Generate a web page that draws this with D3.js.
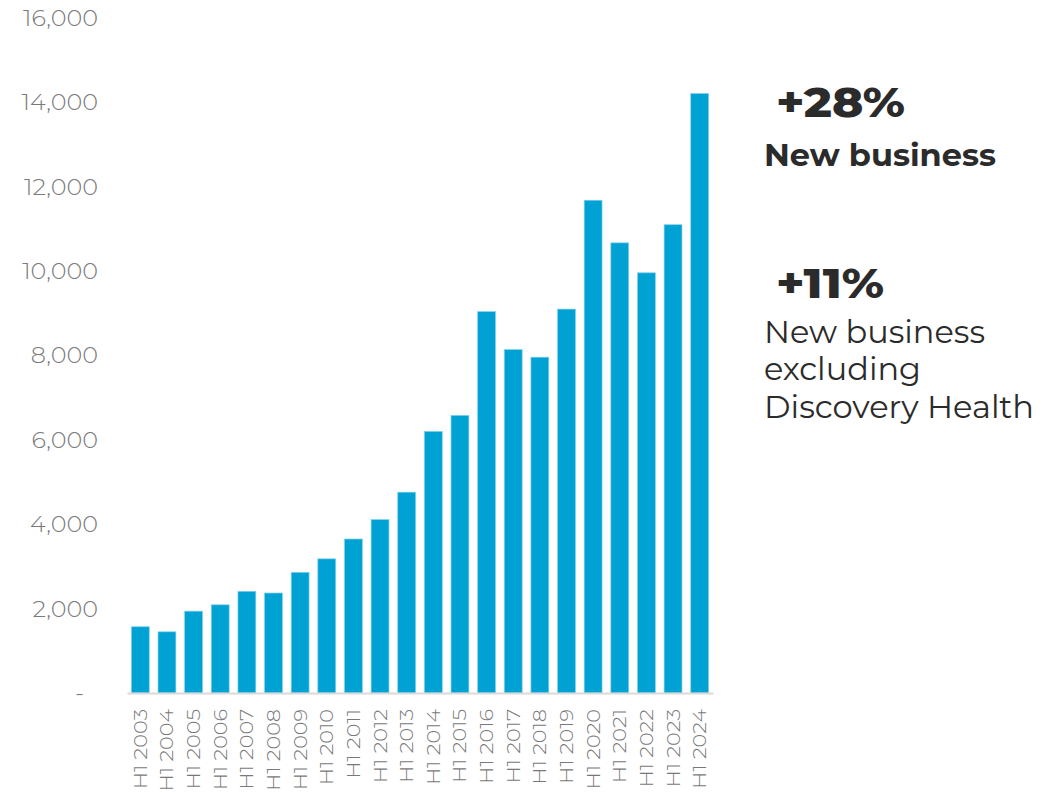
<!DOCTYPE html>
<html>
<head>
<meta charset="utf-8">
<script src="https://cdn.jsdelivr.net/npm/d3@7/dist/d3.min.js"></script>
<style>
  html, body { margin: 0; padding: 0; background: #ffffff; }
  svg { display: block; }
  svg text { font-family: Montserrat, Inter, "Open Sans", sans-serif; }
</style>
</head>
<body>
<svg id="chart" width="1061" height="794"></svg>
<script>
// Half-year new business, H1 2003 – H1 2024
const periods = ["H1 2003","H1 2004","H1 2005","H1 2006","H1 2007","H1 2008","H1 2009","H1 2010",
  "H1 2011","H1 2012","H1 2013","H1 2014","H1 2015","H1 2016","H1 2017","H1 2018","H1 2019",
  "H1 2020","H1 2021","H1 2022","H1 2023","H1 2024"];
const newBusiness = [1570, 1450, 1940, 2090, 2410, 2370, 2860, 3180, 3650, 4110, 4760, 6200,
  6580, 9040, 8140, 7960, 9100, 11680, 10670, 9960, 11100, 14210];
const yTicks = [0, 2000, 4000, 6000, 8000, 10000, 12000, 14000, 16000];

// Side call-outs
const growthFigures = ["+28%", "+11%"];
const growthCaptions = [["New business"], ["New business", "excluding", "Discovery Health"]];

const svg = d3.select("#chart");
const plotLeft = 127, plotRight = 713, plotTop = 18, plotBottom = 693;

const x = d3.scaleBand().domain(periods).range([plotLeft, plotRight])
  .paddingInner(0.33).paddingOuter(0.165);
const y = d3.scaleLinear().domain([0, 16000]).range([plotBottom, plotTop]);

// Widen glyphs of a text selection by factor k (wide-cut lettering)
function widen(sel, k) {
  sel.each(function () {
    const len = this.getComputedTextLength();
    d3.select(this).attr("textLength", len * k).attr("lengthAdjust", "spacingAndGlyphs");
  });
}

// Bars
svg.append("g").selectAll("rect")
  .data(newBusiness)
  .join("rect")
  .attr("x", (d, i) => x(periods[i]))
  .attr("width", x.bandwidth())
  .attr("y", d => y(d))
  .attr("height", d => y(0) - y(d))
  .attr("fill", "#00a1d3")
  .attr("stroke", "#7fd0ec")
  .attr("stroke-width", 0.7);

// Value axis (labels only)
const yAxis = svg.append("g")
  .attr("transform", `translate(${plotLeft},0)`)
  .call(d3.axisLeft(y).tickValues(yTicks).tickSize(0).tickPadding(29)
    .tickFormat(d => d === 0 ? "-" : d3.format(",")(d)));
yAxis.attr("font-family", null);
yAxis.select(".domain").remove();
const yLabels = yAxis.selectAll("text")
  .attr("fill", "#7a7a7a")
  .style("font-size", "23px")
  .style("font-weight", 300)
  .attr("dx", d => d === 0 ? -14 : 0);
const topLabel = yLabels.filter(d => d === 16000).node();
widen(yLabels, 75 / topLabel.getComputedTextLength());

// Category axis
const xAxis = svg.append("g")
  .attr("transform", `translate(0,${plotBottom})`)
  .call(d3.axisBottom(x).tickSize(0).tickPadding(0));
xAxis.attr("font-family", null);
xAxis.select(".domain")
  .attr("stroke", "#d9d9d9")
  .attr("stroke-width", 2);
const xLabels = xAxis.selectAll("text")
  .attr("fill", "#787878")
  .style("font-size", "18px")
  .style("font-weight", 300)
  .attr("text-anchor", "end")
  .attr("transform", "rotate(-90)")
  .attr("x", -16)
  .attr("y", 0)
  .attr("dy", "0.36em");
widen(xLabels, 80 / xLabels.node().getComputedTextLength());

// Call-outs on the right
const ink = "#2b2b2b";
function label(sel, txt, px, py, size, weight, width) {
  return sel.append("text")
    .attr("x", px).attr("y", py)
    .attr("fill", ink)
    .style("font-size", size + "px")
    .style("font-weight", weight)
    .attr("textLength", width)
    .attr("lengthAdjust", "spacingAndGlyphs")
    .text(txt);
}
const c1 = svg.append("g");
label(c1, growthFigures[0], 776, 117, 41.5, 800, 129);
label(c1, growthCaptions[0][0], 764, 166, 31, 700, 232);

const c2 = svg.append("g");
label(c2, growthFigures[1], 776, 298, 41.5, 800, 108);
const captionWidths = [221, 157, 270];
const captionBaselines = [343, 380, 418];
growthCaptions[1].forEach((t, i) =>
  label(c2, t, 764, captionBaselines[i], 31, 400, captionWidths[i]));
</script>
</body>
</html>
